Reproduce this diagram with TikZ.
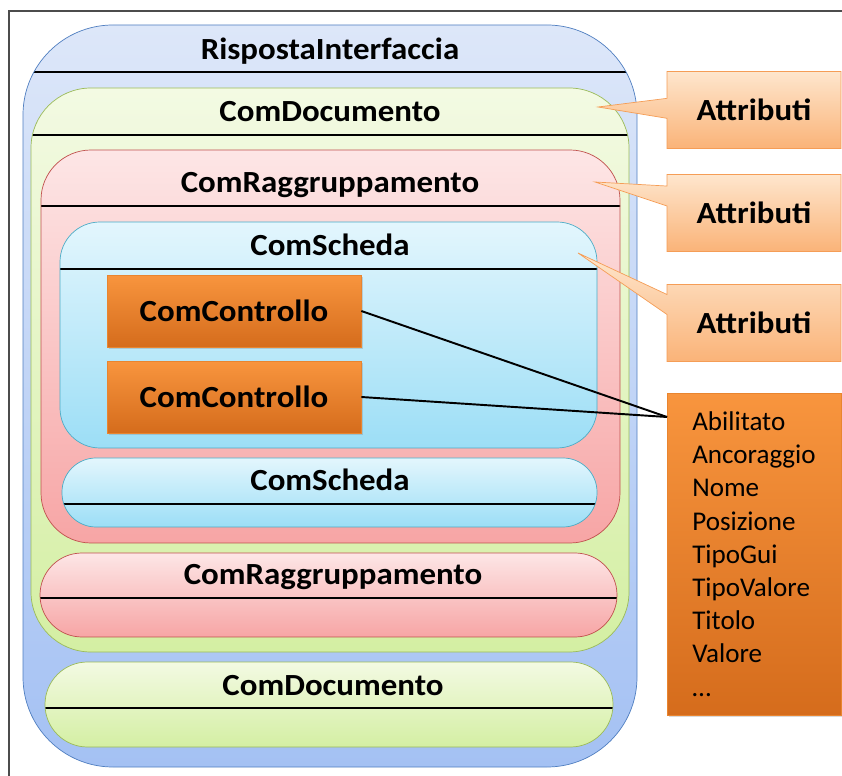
\documentclass[tikz,border=0pt]{standalone}
\usepackage{fontspec}
\setmainfont{Carlito}
\newfontfamily\larga{Carlito}[FakeStretch=1.07]
\usetikzlibrary{shapes.callouts,shadows}

\definecolor{bluchiaro}{HTML}{DDE7F9}
\definecolor{bluscuro}{HTML}{A4C1F3}
\definecolor{bordoblu}{HTML}{4F7EC0}
\definecolor{verdechiaro}{HTML}{F3FAE3}
\definecolor{verdescuro}{HTML}{D4EFA3}
\definecolor{bordoverde}{HTML}{9BBB59}
\definecolor{rosachiaro}{HTML}{FDE6E6}
\definecolor{rosascuro}{HTML}{F7A5A5}
\definecolor{bordorosso}{HTML}{C0504D}
\definecolor{cianochiaro}{HTML}{E3F6FD}
\definecolor{cianoscuro}{HTML}{9CDEF6}
\definecolor{bordociano}{HTML}{4BACC6}
\definecolor{arancio}{HTML}{F8953E}
\definecolor{aranciocupo}{HTML}{D56C1C}
\definecolor{bordoarancio}{HTML}{E9852F}
\definecolor{pescachiaro}{HTML}{FEE6CD}
\definecolor{pescascuro}{HTML}{FAB378}
\definecolor{bordopesca}{HTML}{F59D56}

\tikzset{
  titolo/.style={anchor=base,font=\larga\fontsize{17.5}{21}\selectfont\bfseries},
  divisore/.style={line width=1.6pt,black},
  blu/.style={draw=bordoblu,thin,top color=bluchiaro,bottom color=bluscuro},
  verde/.style={draw=bordoverde,thin,top color=verdechiaro,bottom color=verdescuro},
  rosa/.style={draw=bordorosso,thin,top color=rosachiaro,bottom color=rosascuro},
  ciano/.style={draw=bordociano,thin,top color=cianochiaro,bottom color=cianoscuro},
  controllo/.style={draw=bordoarancio,top color=arancio,bottom color=aranciocupo,
    minimum width=5.08cm,minimum height=1.44cm,
    font=\larga\fontsize{17.5}{21}\selectfont\bfseries,
    drop shadow={opacity=0.3,shadow xshift=0.04cm,shadow yshift=-0.04cm}},
  attributi/.style={rectangle callout,draw=bordopesca,top color=pescachiaro,bottom color=pescascuro,
    minimum width=3.48cm,minimum height=1.54cm,callout pointer width=0.4cm,
    font=\larga\fontsize{17.5}{21}\selectfont\bfseries},
  elenco/.style={draw=bordoarancio,top color=arancio,bottom color=aranciocupo,
    minimum width=3.48cm,minimum height=6.44cm,align=left,
    font=\fontsize{15.4}{18.9}\selectfont,
    drop shadow={opacity=0.3,shadow xshift=0.04cm,shadow yshift=-0.04cm}},
  legame/.style={line width=1.1pt,black},
}

\begin{document}
\begin{tikzpicture}[x=0.02cm,y=-0.02cm] % coordinate in pixel
\useasboundingbox (0,0) rectangle (842,776);
\draw[gray!60!black,line width=0.9pt] (9,776) -- (9,11) -- (842,11); % cornice

% contenitori
\draw[blu,rounded corners=1.8cm,path picture={\draw[divisore] (0,72) -- (842,72);}] (23,25) rectangle (637,767);
\node[titolo] (risposta) at (330,60) {RispostaInterfaccia};
\draw[verde,rounded corners=1.2cm,path picture={\draw[divisore] (0,135) -- (842,135);}] (31,88) rectangle (629,652);
\node[titolo] (documento) at (330,122) {ComDocumento};
\draw[rosa,rounded corners=1cm,path picture={\draw[divisore] (0,206) -- (842,206);}] (41,150) rectangle (620,543);
\node[titolo] (raggruppamento) at (330,193) {ComRaggruppamento};
\draw[ciano,rounded corners=0.8cm,path picture={\draw[divisore] (0,269) -- (842,269);}] (60,222) rectangle (597,448);
\node[titolo] (scheda) at (330,256) {ComScheda};
\draw[ciano,rounded corners=0.68cm,path picture={\draw[divisore] (0,504) -- (842,504);}] (62,458) rectangle (597,527);
\node[titolo] (scheda2) at (330,491) {ComScheda};
\draw[rosa,rounded corners=0.84cm,path picture={\draw[divisore] (0,598) -- (842,598);}] (40,553) rectangle (617,637);
\node[titolo] (raggruppamento2) at (333,585) {ComRaggruppamento};
\draw[verde,rounded corners=0.85cm,path picture={\draw[divisore] (0,708) -- (842,708);}] (45,662) rectangle (613,747);
\node[titolo] (documento2) at (333,695) {ComDocumento};

% controlli
\node[controllo] (controllo1) at (234,311) {ComControllo};
\node[controllo] (controllo2) at (234,397) {ComControllo};

% attributi
\coordinate (punta1) at (598,107);
\coordinate (punta2) at (595,182);
\coordinate (punta3) at (578,253);
\node[attributi,callout absolute pointer=(punta1)] (attr1) at (754,110) {Attributi};
\node[attributi,callout absolute pointer=(punta2)] (attr2) at (754,213) {Attributi};
\node[attributi,callout absolute pointer=(punta3)] (attr3) at (754,323) {Attributi};

\node[elenco] (proprieta) at (754,554) {Abilitato\\Ancoraggio\\Nome\\Posizione\\TipoGui\\TipoValore\\Titolo\\Valore\\\ldots};
\coordinate (ingresso) at (667,417);
\draw[legame] (controllo1.east) -- (ingresso);
\draw[legame] (controllo2.east) -- (ingresso);
\end{tikzpicture}
\end{document}
